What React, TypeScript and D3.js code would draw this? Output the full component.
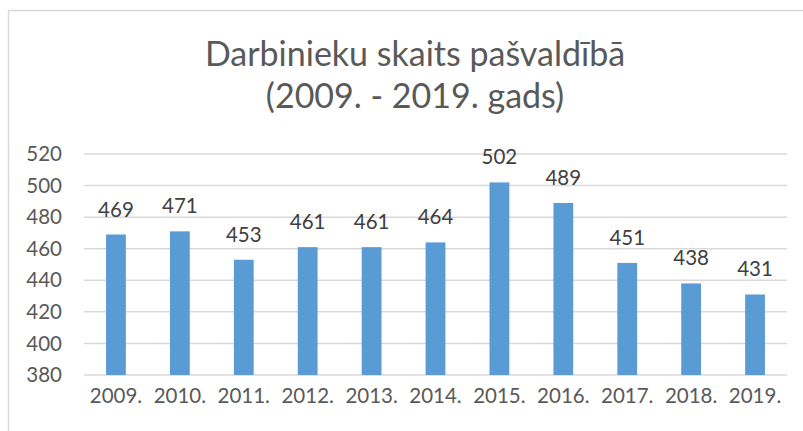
import React, { useEffect, useRef } from 'react';
import * as d3 from 'd3';

// chart data
const years = ['2009.', '2010.', '2011.', '2012.', '2013.', '2014.', '2015.', '2016.', '2017.', '2018.', '2019.'];
const employees = [469, 471, 453, 461, 461, 464, 502, 489, 451, 438, 431];
const yTicks = [380, 400, 420, 440, 460, 480, 500, 520];
const titleLines = ['Darbinieku skaits pašvaldībā', '(2009. - 2019. gads)'];

const W = 803;
const H = 431;
const font = 'Lato, "Open Sans", sans-serif';

export default function App() {
  const ref = useRef<SVGSVGElement>(null);

  useEffect(() => {
    const svg = d3.select(ref.current);
    svg.selectAll('*').remove();

    const margin = { top: 154, right: 16, bottom: 56, left: 84 };
    const width = W - margin.left - margin.right;
    const height = H - margin.top - margin.bottom;

    // outer frame (only top and left edges are visible)
    svg.append('rect')
      .attr('x', 8.5).attr('y', 10.5)
      .attr('width', W + 20).attr('height', H + 20)
      .attr('fill', 'none')
      .attr('stroke', '#d9d9d9')
      .attr('stroke-width', 1.5);

    // title
    svg.append('g').selectAll('text')
      .data(titleLines)
      .enter()
      .append('text')
      .attr('x', 415)
      .attr('y', (d, i) => 66 + i * 42)
      .attr('text-anchor', 'middle')
      .attr('font-family', font)
      .attr('font-size', 34)
      .attr('fill', '#595959')
      .text(d => d);

    const x = d3.scaleBand<string>().domain(years).range([0, width]).paddingInner(0.69).paddingOuter(0.345);
    const y = d3.scaleLinear().domain([380, 520]).range([height, 0]);

    const chart = svg.append('g').attr('transform', 'translate(' + margin.left + ',' + margin.top + ')');

    // gridlines
    chart.selectAll('line.grid')
      .data(yTicks)
      .enter()
      .append('line')
      .attr('class', 'grid')
      .attr('x1', 0).attr('x2', width)
      .attr('y1', d => y(d)).attr('y2', d => y(d))
      .attr('stroke', '#d9d9d9')
      .attr('stroke-width', 1.5);

    // y tick labels
    chart.selectAll('text.ytick')
      .data(yTicks)
      .enter()
      .append('text')
      .attr('class', 'ytick')
      .attr('x', -22)
      .attr('y', d => y(d))
      .attr('dy', '0.35em')
      .attr('text-anchor', 'end')
      .attr('font-family', font)
      .attr('font-size', 20.5)
      .attr('fill', '#595959')
      .text(d => d);

    // bars
    chart.selectAll('rect.bar')
      .data(employees)
      .enter()
      .append('rect')
      .attr('class', 'bar')
      .attr('x', (d, i) => x(years[i]) as number)
      .attr('y', d => y(d))
      .attr('width', x.bandwidth())
      .attr('height', d => height - y(d))
      .attr('fill', '#5b9bd5');

    // value labels
    chart.selectAll('text.val')
      .data(employees)
      .enter()
      .append('text')
      .attr('class', 'val')
      .attr('x', (d, i) => (x(years[i]) as number) + x.bandwidth() / 2)
      .attr('y', d => y(d) - 18)
      .attr('text-anchor', 'middle')
      .attr('font-family', font)
      .attr('font-size', 20.5)
      .attr('fill', '#404040')
      .text(d => d);

    // x labels
    chart.selectAll('text.xtick')
      .data(years)
      .enter()
      .append('text')
      .attr('class', 'xtick')
      .attr('x', d => (x(d) as number) + x.bandwidth() / 2)
      .attr('y', height + 28)
      .attr('text-anchor', 'middle')
      .attr('font-family', font)
      .attr('font-size', 20.5)
      .attr('fill', '#595959')
      .text(d => d);
  }, []);

  return (
    <svg ref={ref} width={W} height={H} style={{ position: 'absolute', left: 0, top: 0, background: '#fff' }} />
  );
}
